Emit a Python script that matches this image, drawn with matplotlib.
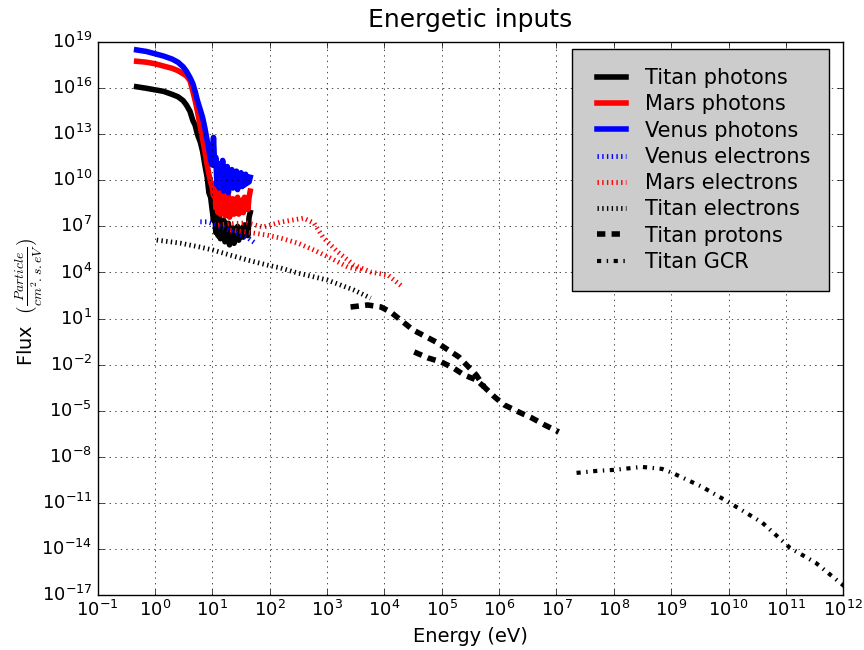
import numpy as np
import matplotlib
matplotlib.use('Agg')
import matplotlib.pyplot as plt

plt.style.use('classic')

# values, as log10(energy) and log10(flux)
PHOT_LOGX = [-0.32, -0.15, 0.00, 0.15, 0.30, 0.40, 0.49, 0.55, 0.61, 0.66, 0.70, 0.74, 0.79,
             0.83, 0.87, 0.91, 0.94, 0.97, 1.00,
             1.02, 1.04, 1.06, 1.08, 1.10, 1.12, 1.14, 1.16, 1.18, 1.20, 1.22, 1.24, 1.26,
             1.28, 1.30, 1.32, 1.34, 1.36, 1.38, 1.40, 1.42, 1.44, 1.46, 1.48, 1.50, 1.52,
             1.54, 1.56, 1.58, 1.60, 1.62, 1.64, 1.66]
TITAN_PHOT = [16.1, 16.0, 15.9, 15.8, 15.6, 15.45, 15.2, 14.9, 14.5, 13.9, 13.6, 13.0, 12.5,
              11.9, 11.0, 10.2, 9.2, 8.9, 8.0,
              7.4, 8.2, 6.6, 7.7, 6.4, 7.8, 6.2, 7.1, 6.5, 7.4, 6.0, 6.8, 6.3,
              7.2, 5.8, 6.7, 6.1, 6.9, 5.9, 6.5, 6.2, 7.0, 6.1, 6.7, 6.4, 6.9,
              6.3, 7.1, 6.5, 6.8, 6.4, 7.6, 7.9]
MARS_PHOT = [17.76, 17.7, 17.6, 17.45, 17.3, 17.15, 16.95, 16.8, 16.5, 15.8, 15.2, 14.5, 13.5,
             12.7, 11.9, 11.0, 10.4, 9.9, 9.5,
             9.0, 9.8, 8.2, 9.3, 7.9, 9.4, 7.8, 8.7, 8.1, 9.2, 7.7, 8.5, 7.9,
             9.0, 7.6, 8.4, 7.9, 8.8, 7.8, 8.3, 8.0, 8.9, 7.8, 8.5, 8.1, 8.7,
             7.9, 8.9, 8.2, 8.6, 8.1, 8.9, 9.3]
VENUS_PHOT = [18.5, 18.4, 18.25, 18.1, 17.9, 17.7, 17.4, 17.1, 16.7, 16.3, 15.8, 15.2, 14.6,
              14.1, 13.4, 12.6, 12.0, 11.3, 11.0,
              12.8, 11.0, 11.5, 9.7, 11.1, 9.5, 10.7, 10.0, 11.3, 9.3, 10.5, 9.8, 10.9,
              9.2, 10.4, 9.7, 10.7, 9.5, 10.3, 9.8, 10.6, 9.4, 10.2, 9.9, 10.5, 9.6,
              10.3, 9.7, 10.4, 9.8, 10.1, 9.9, 10.2]

VEN_E_LOGX = [0.79, 0.90, 1.00, 1.20, 1.40, 1.60, 1.75]
VEN_E = [7.3, 7.3, 7.2, 6.9, 6.6, 6.3, 5.9]

MARS_E_LOGX = [1.10, 1.40, 1.61, 1.89, 2.19, 2.59, 2.77, 2.94, 3.19, 3.47, 3.76, 4.06, 4.32,
               np.nan, 1.31, 1.61, 1.96, 2.19, 2.49, 2.77, 3.06, 3.36, 3.59]
MARS_E = [7.09, 7.20, 7.22, 6.96, 7.28, 7.54, 7.22, 6.24, 5.33, 4.48, 4.03, 3.83, 3.05,
          np.nan, 6.76, 6.63, 6.43, 6.24, 5.91, 5.46, 4.94, 4.35, 4.16]

TITAN_E_LOGX = [0.03, 0.44, 0.79, 1.01, 1.31, 1.61, 1.96, 2.19, 2.49, 3.01, 3.47, 3.76]
TITAN_E = [6.11, 5.91, 5.65, 5.46, 5.13, 4.81, 4.48, 4.29, 3.96, 3.50, 2.85, 2.33]

PROT_LOGX = [3.41, 3.71, 3.94, 4.11, 4.50, 4.90, 5.30, 5.60, 5.74, 5.92, 6.09, 6.34, 6.57,
             6.79, 7.04, np.nan, 4.52, 4.76, 4.99, 5.20, 5.39, 5.60, 5.74]
TITAN_PROT = [1.75, 1.88, 1.75, 1.42, 0.25, -0.53, -1.51, -2.68, -3.46, -4.11, -4.63, -5.09,
              -5.48, -5.93, -6.39, np.nan, -1.18, -1.57, -1.83, -2.22, -2.68, -3.00, -3.46]

GCR_LOGX = [7.35, 7.70, 8.02, 8.49, 8.84, 9.02, 9.54, 10.02, 10.59, 11.07, 11.52, 12.03]
TITAN_GCR = [-9.06, -8.93, -8.86, -8.67, -8.80, -9.06, -9.97, -11.01, -12.31, -13.94,
             -14.92, -16.48]


def p10(a):
    return 10.0 ** np.array(a, dtype=float)


DOT = (0, (1, 2.4))
DASH = (0, (6, 4.5))
DASHDOT = (0, (3, 4, 1, 4))

fig = plt.figure(figsize=(8.64, 6.5), dpi=100, facecolor='white')
ax = fig.add_axes([0.113, 0.085, 0.863, 0.850])

ax.plot(p10(PHOT_LOGX), p10(TITAN_PHOT), color='k', lw=4, label='Titan photons')
ax.plot(p10(PHOT_LOGX), p10(MARS_PHOT), color='r', lw=4, label='Mars photons')
ax.plot(p10(PHOT_LOGX), p10(VENUS_PHOT), color='b', lw=4, label='Venus photons')
ax.plot(p10(VEN_E_LOGX), p10(VEN_E), color='b', lw=3.5, ls=DOT, label='Venus electrons')
ax.plot(p10(MARS_E_LOGX), p10(MARS_E), color='r', lw=3.5, ls=DOT, label='Mars electrons')
ax.plot(p10(TITAN_E_LOGX), p10(TITAN_E), color='k', lw=3.5, ls=DOT, label='Titan electrons')
ax.plot(p10(PROT_LOGX), p10(TITAN_PROT), color='k', lw=4, ls=DASH, label='Titan protons')
ax.plot(p10(GCR_LOGX), p10(TITAN_GCR), color='k', lw=3, ls=DASHDOT, label='Titan GCR')

ax.set_xscale('log')
ax.set_yscale('log')
ax.set_xlim(1e-1, 1e12)
ax.set_ylim(1e-17, 1e19)
ax.set_xticks([10.0 ** k for k in range(-1, 13)])
ax.set_yticks([10.0 ** k for k in range(-17, 20, 3)])
ax.minorticks_off()
ax.tick_params(labelsize=13)
ax.grid(True)

ax.set_title('Energetic inputs', fontsize=18, pad=11)
ax.set_xlabel('Energy (eV)', fontsize=14)
ax.set_ylabel(r'Flux  $(\frac{Particle}{cm^2.s.eV})$', fontsize=14)
ax.yaxis.set_label_coords(-0.07, 0.53)

leg = ax.legend(loc='upper right', bbox_to_anchor=(0.981, 0.987), borderaxespad=0,
                fontsize=15, fancybox=False, numpoints=2,
                handlelength=2.0, handletextpad=0.6, labelspacing=0.3, borderpad=0.9)
leg.get_frame().set_facecolor('0.8')
leg.get_frame().set_edgecolor('k')

fig.savefig('out.png', dpi=100, facecolor='white')
